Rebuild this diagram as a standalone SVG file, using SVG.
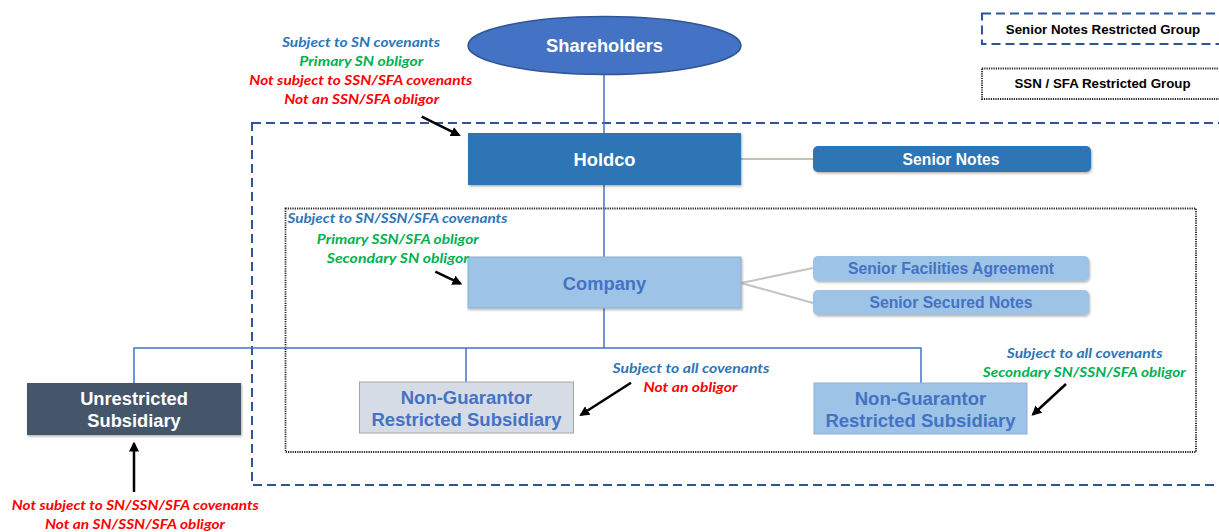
<svg xmlns="http://www.w3.org/2000/svg" width="1219" height="532" viewBox="0 0 1219 532">
<style>
.bx{font-family:"Liberation Sans",Arial,sans-serif;font-weight:bold;text-anchor:middle}
.w{fill:#FFFFFF}
.bl{fill:#4472C4}
.lb{font-family:Lato,"Open Sans",sans-serif;font-weight:bold;font-style:italic;font-size:14px;text-anchor:middle}
.cb{fill:#2E75B6}
.cg{fill:#00B050}
.cr{fill:#FF0000}
.conn{stroke:#4472C4;stroke-width:1.5;fill:none}
.arr{stroke:#000;stroke-width:2.5;fill:none;marker-end:url(#ah)}
.lg{font-family:"Liberation Sans",Arial,sans-serif;font-weight:bold;font-size:13.3px;fill:#000;text-anchor:middle}
.dash{fill:none;stroke:#2F5597;stroke-width:2;stroke-dasharray:9 5}
.dot{fill:none;stroke:#222;stroke-width:1.8;stroke-dasharray:1.2 1.1}
</style>
<defs>
<marker id="ah" viewBox="0 0 10 10" refX="8" refY="5" markerWidth="4" markerHeight="4" orient="auto" markerUnits="strokeWidth">
<path d="M0,0 L10,5 L0,10 z" fill="#000"/>
</marker>
<filter id="sh" x="-10%" y="-20%" width="120%" height="150%">
<feDropShadow dx="1" dy="1.5" stdDeviation="1" flood-color="#000" flood-opacity="0.3"/>
</filter>
</defs>
<rect width="1219" height="532" fill="#FFFFFF"/>

<g id="groups">
<rect class="dash" x="252" y="123" width="1000" height="362"/>
<rect class="dot" x="285.5" y="208.5" width="910.5" height="243.5"/>
</g>

<g id="legend">
<rect class="dash" x="982" y="13.5" width="260" height="30.5"/>
<text class="lg" x="1103" y="33.5">Senior Notes Restricted Group</text>
<rect class="dot" x="982" y="68.5" width="260" height="30.5"/>
<text class="lg" x="1102.5" y="88.3">SSN / SFA Restricted Group</text>
</g>

<g id="connectors">
<line class="conn" x1="604" y1="70" x2="604" y2="348"/>
<polyline class="conn" points="134,383 134,348 921,348 921,383"/>
<line class="conn" x1="466" y1="348" x2="466" y2="382"/>
<line x1="741" y1="159" x2="813" y2="159" stroke="#A3B595" stroke-width="1.5"/>
<line x1="741" y1="283" x2="813" y2="268" stroke="#C4C4C4" stroke-width="2"/>
<line x1="741" y1="283" x2="813" y2="303" stroke="#C4C4C4" stroke-width="2"/>
<line class="arr" x1="421.7" y1="116.7" x2="459" y2="135.2"/>
<line class="arr" x1="435.3" y1="271.6" x2="460.5" y2="283.6"/>
<line class="arr" x1="631" y1="382.7" x2="581" y2="414.8"/>
<line class="arr" x1="1066" y1="384" x2="1033" y2="414.5"/>
<line class="arr" x1="134" y1="492" x2="134" y2="443.5"/>
</g>

<g id="shareholders">
<ellipse cx="604.5" cy="45.5" rx="136.5" ry="29" fill="#4472C4" stroke="#2F5597" stroke-width="1.5"/>
<text class="bx w" x="604.5" y="51.7" font-size="18.3">Shareholders</text>
</g>

<g id="holdco">
<rect x="468" y="133" width="273" height="52" fill="#2E75B6" filter="url(#sh)"/>
<text class="bx w" x="604.5" y="165.7" font-size="18.3">Holdco</text>
</g>

<g id="senior-notes">
<rect x="813" y="146" width="278" height="26" rx="5" fill="#2E75B6" filter="url(#sh)"/>
<text class="bx w" x="951" y="165" font-size="15.7">Senior Notes</text>
</g>

<g id="company">
<rect x="468" y="257" width="273" height="51" fill="#9DC3E6" stroke="#8FAFD0" stroke-width="1" filter="url(#sh)"/>
<text class="bx bl" x="604.5" y="289.5" font-size="18.3">Company</text>
</g>

<g id="sfa">
<rect x="813" y="256" width="276" height="25" rx="5" fill="#9DC3E6" filter="url(#sh)"/>
<text class="bx bl" x="951" y="274" font-size="15.7">Senior Facilities Agreement</text>
</g>

<g id="ssn">
<rect x="813" y="290" width="276" height="25" rx="5" fill="#9DC3E6" filter="url(#sh)"/>
<text class="bx bl" x="951" y="308" font-size="15.7">Senior Secured Notes</text>
</g>

<g id="unrestricted">
<rect x="27" y="383" width="214" height="52" fill="#44546A" filter="url(#sh)"/>
<text class="bx w" x="134" y="404.5" font-size="18.3">Unrestricted</text>
<text class="bx w" x="134" y="426.5" font-size="18.3">Subsidiary</text>
</g>

<g id="ng1">
<rect x="359.5" y="382" width="214" height="51" fill="#D6DCE5" stroke="#A6A6A6" stroke-width="1"/>
<text class="bx bl" x="466.5" y="403.5" font-size="18.5">Non-Guarantor</text>
<text class="bx bl" x="466.5" y="425.5" font-size="18.5">Restricted Subsidiary</text>
</g>

<g id="ng2">
<rect x="814" y="383" width="213" height="51" fill="#9DC3E6" stroke="#8FAFD0" stroke-width="1"/>
<text class="bx bl" x="920.5" y="405" font-size="18.5">Non-Guarantor</text>
<text class="bx bl" x="920.5" y="426.7" font-size="18.5">Restricted Subsidiary</text>
</g>

<g id="labels">
<text class="lb cb" x="361" y="47" textLength="158" lengthAdjust="spacingAndGlyphs">Subject to SN covenants</text>
<text class="lb cg" x="361.3" y="66" textLength="124" lengthAdjust="spacingAndGlyphs">Primary SN obligor</text>
<text class="lb cr" x="360.8" y="85" textLength="223" lengthAdjust="spacingAndGlyphs">Not subject to SSN/SFA covenants</text>
<text class="lb cr" x="361.7" y="104" textLength="155" lengthAdjust="spacingAndGlyphs">Not an SSN/SFA obligor</text>

<text class="lb cb" x="397.4" y="223.4" textLength="220" lengthAdjust="spacingAndGlyphs">Subject to SN/SSN/SFA covenants</text>
<text class="lb cg" x="397.8" y="243.5" textLength="162" lengthAdjust="spacingAndGlyphs">Primary SSN/SFA obligor</text>
<text class="lb cg" x="397.8" y="263" textLength="142" lengthAdjust="spacingAndGlyphs">Secondary SN obligor</text>

<text class="lb cb" x="691" y="373.3" textLength="157" lengthAdjust="spacingAndGlyphs">Subject to all covenants</text>
<text class="lb cr" x="690.5" y="391.7" textLength="94" lengthAdjust="spacingAndGlyphs">Not an obligor</text>

<text class="lb cb" x="1084.7" y="358.3" textLength="156" lengthAdjust="spacingAndGlyphs">Subject to all covenants</text>
<text class="lb cg" x="1084.3" y="377.3" textLength="203" lengthAdjust="spacingAndGlyphs">Secondary SN/SSN/SFA obligor</text>

<text class="lb cr" x="135.3" y="510" textLength="247" lengthAdjust="spacingAndGlyphs">Not subject to SN/SSN/SFA covenants</text>
<text class="lb cr" x="135" y="529" textLength="180" lengthAdjust="spacingAndGlyphs">Not an SN/SSN/SFA obligor</text>
</g>
</svg>
